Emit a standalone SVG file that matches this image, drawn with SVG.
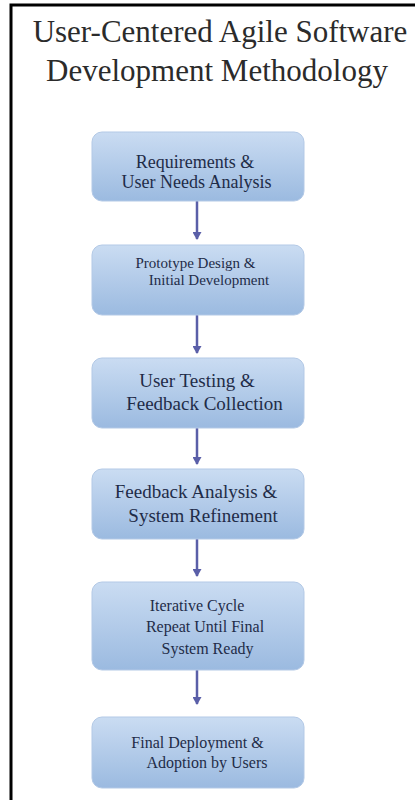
<svg xmlns="http://www.w3.org/2000/svg" width="415" height="800" viewBox="0 0 415 800">
  <style>
    .frame { stroke: #000; stroke-width: 3; fill: none; }
    .title { font-family: "Liberation Serif", Tinos, "Times New Roman", Times, "DejaVu Serif", serif; font-size: 31px; fill: #2b2b2b; text-anchor: middle; }
    .box { fill: url(#boxFill); stroke: #b3c9e6; stroke-width: 1; }
    .lbl { font-family: "Liberation Serif", Tinos, "Times New Roman", Times, "DejaVu Serif", serif; fill: #1f2c48; text-anchor: middle; }
    .flow { stroke: #5a5fa8; stroke-width: 2.5; fill: none; marker-end: url(#head); }
  </style>
  <defs>
    <linearGradient id="boxFill" x1="0" y1="0" x2="0" y2="1">
      <stop offset="0" stop-color="#cadcf2"/>
      <stop offset="1" stop-color="#9bbae0"/>
    </linearGradient>
    <marker id="head" markerWidth="8" markerHeight="9" refX="7" refY="4.5" orient="auto" markerUnits="userSpaceOnUse" viewBox="0 0 8 9">
      <path d="M0,0 L8,4.5 L0,9 Z" fill="#5a5fa8"/>
    </marker>
  </defs>

  <rect width="415" height="800" fill="#fff"/>

  <!-- page frame: left and top rules -->
  <path class="frame" d="M11,5 V800 M9.5,5 H415"/>

  <!-- heading -->
  <text class="title" x="220" y="42">User-Centered Agile Software</text>
  <text class="title" x="217" y="81">Development Methodology</text>

  <!-- connectors -->
  <g id="connectors">
    <line class="flow" x1="197" y1="201" x2="197" y2="239"/>
    <line class="flow" x1="197" y1="315" x2="197" y2="353"/>
    <line class="flow" x1="197" y1="428" x2="197" y2="464"/>
    <line class="flow" x1="197" y1="539" x2="197" y2="576"/>
    <line class="flow" x1="197" y1="670" x2="197" y2="704"/>
  </g>

  <g id="requirements">
    <rect class="box" x="92" y="132" width="212" height="69" rx="10"/>
    <text class="lbl" font-size="18" x="195" y="168">Requirements &amp;</text>
    <text class="lbl" font-size="18" x="196.5" y="188">User Needs Analysis</text>
  </g>

  <g id="prototype">
    <rect class="box" x="92" y="245" width="212" height="70" rx="10"/>
    <text class="lbl" font-size="15" x="195.5" y="268">Prototype Design &amp;</text>
    <text class="lbl" font-size="15" x="209" y="285">Initial Development</text>
  </g>

  <g id="user-testing">
    <rect class="box" x="92" y="358" width="212" height="70" rx="10"/>
    <text class="lbl" font-size="19" x="197" y="387">User Testing &amp;</text>
    <text class="lbl" font-size="19" x="204.5" y="410">Feedback Collection</text>
  </g>

  <g id="feedback-analysis">
    <rect class="box" x="92" y="469" width="212" height="70" rx="10"/>
    <text class="lbl" font-size="19" x="196" y="498">Feedback Analysis &amp;</text>
    <text class="lbl" font-size="19" x="203" y="522">System Refinement</text>
  </g>

  <g id="iterative-cycle">
    <rect class="box" x="92" y="582" width="212" height="88" rx="10"/>
    <text class="lbl" font-size="16" x="197" y="611">Iterative Cycle</text>
    <text class="lbl" font-size="16" x="205" y="632">Repeat Until Final</text>
    <text class="lbl" font-size="16" x="207.5" y="654">System Ready</text>
  </g>

  <g id="deployment">
    <rect class="box" x="92" y="717" width="212" height="71" rx="10"/>
    <text class="lbl" font-size="16" x="197.5" y="748">Final Deployment &amp;</text>
    <text class="lbl" font-size="16" x="207" y="768">Adoption by Users</text>
  </g>
</svg>
